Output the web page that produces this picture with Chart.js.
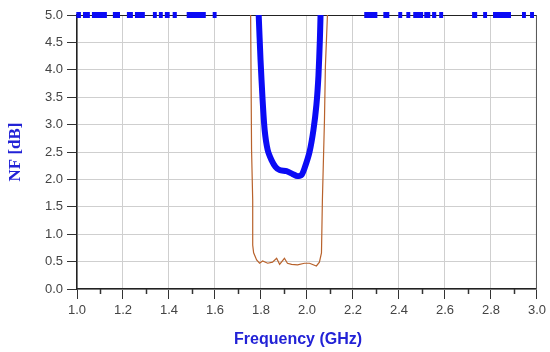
<!DOCTYPE html>
<html>
<head>
<meta charset="utf-8">
<script src="https://cdn.jsdelivr.net/npm/chart.js@4.4.1/dist/chart.umd.min.js"></script>
<style>
  html, body { margin: 0; padding: 0; background: #fff; }
  #wrap { width: 550px; height: 352px; }
</style>
</head>
<body>
<div id="wrap"><canvas id="nfChart"></canvas></div>
<script>
// blue NF curve (GHz, dB)
const nfFreq = [1.790, 1.798, 1.807, 1.816, 1.829, 1.846, 1.863, 1.881, 1.911, 1.937, 1.959, 1.976, 1.989, 2.011, 2.028, 2.041, 2.050, 2.056, 2.059];
const nfVal  = [5.00, 4.18, 3.45, 2.90, 2.54, 2.35, 2.23, 2.17, 2.15, 2.10, 2.06, 2.08, 2.20, 2.50, 2.90, 3.36, 3.90, 4.54, 5.00];

// thin brown curve
const nfMinFreq = [1.755, 1.759, 1.764, 1.764, 1.768, 1.781, 1.794, 1.807, 1.829, 1.850, 1.868, 1.881, 1.902, 1.915, 1.933, 1.959, 1.989, 2.011, 2.041, 2.054, 2.063, 2.067, 2.076, 2.080, 2.089];
const nfMinVal  = [5.00, 2.54, 1.62, 0.80, 0.66, 0.53, 0.47, 0.51, 0.47, 0.49, 0.56, 0.45, 0.56, 0.47, 0.45, 0.44, 0.47, 0.47, 0.42, 0.49, 0.66, 1.62, 3.08, 4.05, 5.00];

// out-of-band points clipped at the top (runs of markers: start / end GHz)
const topStart = [0.997, 1.026, 1.065, 1.156, 1.217, 1.252, 1.330, 1.356, 1.382, 1.416, 1.477, 1.590, 2.249, 2.332, 2.397, 2.432, 2.462, 2.510, 2.544, 2.575, 2.718, 2.766, 2.809, 2.935, 2.970];
const topEnd   = [1.017, 1.056, 1.130, 1.187, 1.243, 1.295, 1.347, 1.373, 1.403, 1.434, 1.560, 1.607, 2.306, 2.358, 2.414, 2.449, 2.505, 2.536, 2.562, 2.592, 2.740, 2.783, 2.887, 2.952, 2.987];
const topLevel = 5.0;

const xTickLabels = ["1.0", "1.2", "1.4", "1.6", "1.8", "2.0", "2.2", "2.4", "2.6", "2.8", "3.0"];
const yTickLabels = ["0.0", "0.5", "1.0", "1.5", "2.0", "2.5", "3.0", "3.5", "4.0", "4.5", "5.0"];

const blue = "#0b0bf5";
const brown = "#b8622c";
const titleBlue = "#2222d6";

const topData = [];
topStart.forEach((s, i) => {
  topData.push({ x: s, y: topLevel }, { x: topEnd[i], y: topLevel }, { x: topEnd[i], y: null });
});

// frame (top/right) + minor x ticks
const framePlugin = {
  id: "frame",
  beforeDatasetsDraw(chart) {
    const { ctx, chartArea: a } = chart;
    ctx.save();
    ctx.strokeStyle = "#222";
    ctx.lineWidth = 1;
    ctx.beginPath();
    ctx.moveTo(a.left, a.top + 0.5);
    ctx.lineTo(a.right, a.top + 0.5);
    ctx.stroke();
    ctx.strokeStyle = "#555";
    ctx.beginPath();
    ctx.moveTo(a.right - 0.5, a.top);
    ctx.lineTo(a.right - 0.5, a.bottom);
    ctx.stroke();
    ctx.restore();
  },
  afterDraw(chart) {
    const { ctx, chartArea: a } = chart;
    const xs = chart.scales.x;
    ctx.save();
    ctx.strokeStyle = "#333";
    ctx.lineWidth = 1.5;
    for (let i = 1; i < xTickLabels.length; i++) {
      const mid = (parseFloat(xTickLabels[i - 1]) + parseFloat(xTickLabels[i])) / 2;
      const px = Math.round(xs.getPixelForValue(mid)) + 0.5;
      ctx.beginPath();
      ctx.moveTo(px, a.bottom);
      ctx.lineTo(px, a.bottom + 5);
      ctx.stroke();
    }
    ctx.restore();
  }
};

const tickFont = { family: "'Liberation Sans', Arial, sans-serif", size: 13 };

new Chart(document.getElementById("nfChart"), {
  type: "line",
  data: {
    datasets: [
      {
        data: nfMinFreq.map((f, i) => ({ x: f, y: nfMinVal[i] })),
        borderColor: brown,
        borderWidth: 1.2,
        pointRadius: 0,
        tension: 0
      },
      {
        data: nfFreq.map((f, i) => ({ x: f, y: nfVal[i] })),
        borderColor: blue,
        borderWidth: 6,
        pointRadius: 0,
        tension: 0.2,
        borderJoinStyle: "round"
      },
      {
        data: topData,
        borderColor: blue,
        borderWidth: 6,
        borderCapStyle: "butt",
        pointRadius: 0,
        spanGaps: false,
        clip: false
      }
    ]
  },
  options: {
    responsive: true,
    maintainAspectRatio: false,
    animation: false,
    layout: { padding: { top: 15, right: 12, left: 0, bottom: 0 } },
    plugins: {
      legend: { display: false },
      tooltip: { enabled: false }
    },
    scales: {
      x: {
        type: "linear",
        min: 1,
        max: 3,
        afterFit(scale) { scale.height = 63; },
        afterBuildTicks(scale) {
          scale.ticks = xTickLabels.map(v => ({ value: parseFloat(v) }));
        },
        ticks: {
          color: "#444",
          font: tickFont,
          padding: 4,
          maxRotation: 0,
          autoSkip: false,
          callback: v => v.toFixed(1)
        },
        grid: { color: "#cfcfcf", tickColor: "#333", tickLength: 10, lineWidth: 1 },
        border: { color: "#222", width: 1.5 },
        title: {
          display: true,
          text: "Frequency (GHz)    ",
          color: titleBlue,
          font: { family: "'Liberation Sans', Arial, sans-serif", size: 16, weight: "bold" },
          padding: { top: 0, bottom: 3 }
        }
      },
      y: {
        min: 0,
        max: 5,
        afterFit(scale) { scale.width = 77; },
        afterBuildTicks(scale) {
          scale.ticks = yTickLabels.map(v => ({ value: parseFloat(v) }));
        },
        ticks: {
          color: "#444",
          font: tickFont,
          padding: 4,
          autoSkip: false,
          callback: v => v.toFixed(1)
        },
        grid: { color: "#cfcfcf", tickColor: "#333", tickLength: 10, lineWidth: 1 },
        border: { color: "#222", width: 1.5 },
        title: {
          display: true,
          text: "NF [dB]",
          color: titleBlue,
          font: { family: "'Liberation Serif', 'Times New Roman', serif", size: 17, weight: "bold" },
          padding: { top: 5, bottom: 0 }
        }
      }
    }
  },
  plugins: [framePlugin]
});
</script>
</body>
</html>
